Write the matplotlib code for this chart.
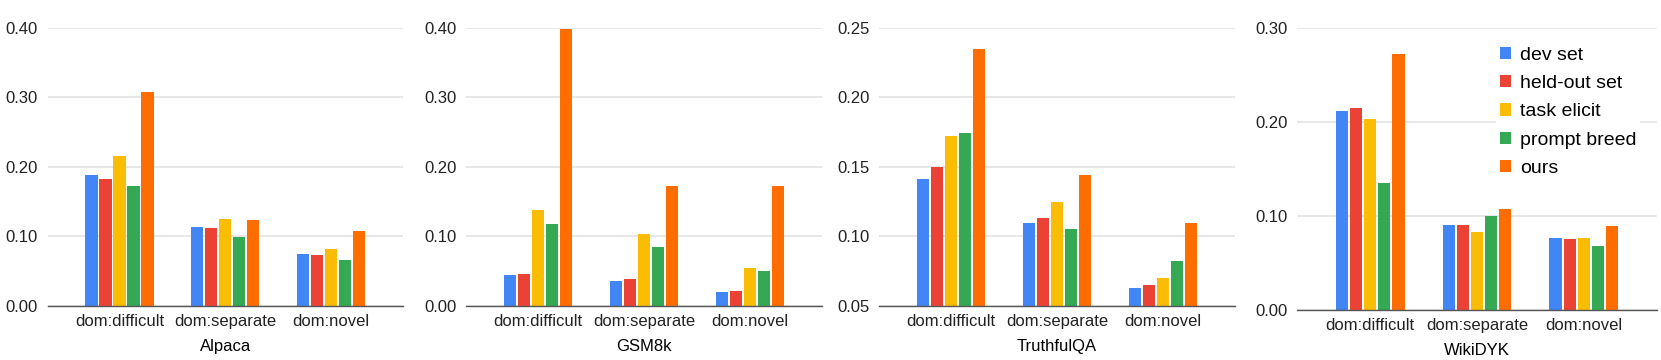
import numpy as np
import matplotlib
matplotlib.use('Agg')
import matplotlib.pyplot as plt

plt.rcParams['font.family'] = ['Liberation Sans', 'DejaVu Sans']

groups = ['dom:difficult', 'dom:separate', 'dom:novel']
methods = ['dev set', 'held-out set', 'task elicit', 'prompt breed', 'ours']
colors = ['#4285F4', '#EA4335', '#FBBC04', '#34A853', '#FF6D01']

# values per dataset: rows = groups, cols = methods
alpaca = [[0.189, 0.182, 0.216, 0.173, 0.308],
          [0.113, 0.112, 0.125, 0.099, 0.123],
          [0.075, 0.073, 0.082, 0.066, 0.108]]
gsm8k = [[0.045, 0.046, 0.138, 0.118, 0.398],
         [0.036, 0.039, 0.103, 0.085, 0.173],
         [0.020, 0.021, 0.054, 0.051, 0.173]]
truthfulqa = [[0.141, 0.150, 0.172, 0.174, 0.235],
              [0.110, 0.113, 0.125, 0.105, 0.144],
              [0.063, 0.065, 0.070, 0.082, 0.110]]
wikidyk = [[0.212, 0.215, 0.203, 0.135, 0.272],
           [0.090, 0.090, 0.083, 0.100, 0.107],
           [0.077, 0.075, 0.076, 0.068, 0.089]]

datasets = ['Alpaca', 'GSM8k', 'TruthfulQA', 'WikiDYK']
values = [alpaca, gsm8k, truthfulqa, wikidyk]
yticks = [[0.0, 0.1, 0.2, 0.3, 0.4],
          [0.0, 0.1, 0.2, 0.3, 0.4],
          [0.05, 0.10, 0.15, 0.20, 0.25],
          [0.0, 0.1, 0.2, 0.3]]

W, H = 1661, 360
fig = plt.figure(figsize=(W / 100, H / 100), dpi=100)

# axes boxes in pixels: left, top, right, bottom
boxes = [(47.7, 27.7, 402.7, 306),
         (466, 27.7, 821.7, 306),
         (879.3, 27.7, 1235, 306),
         (1297.3, 27.7, 1656.7, 310)]

step = 0.1325
bw = 0.115
x = np.arange(len(groups))

for k, (name, vals, yt, box) in enumerate(zip(datasets, values, yticks, boxes)):
    l, t, r, b = box
    ax = fig.add_axes([l / W, (H - b) / H, (r - l) / W, (b - t) / H])
    vals = np.array(vals)
    for m in range(len(methods)):
        ax.bar(x + (m - 2) * step, vals[:, m], width=bw, color=colors[m],
               label=methods[m], zorder=3)
    ax.set_xlim(-0.68, 2.68)
    ax.set_ylim(yt[0], yt[-1])
    ax.set_yticks(yt)
    ax.set_yticklabels(['%.2f' % v for v in yt])
    ax.set_xticks(x)
    ax.set_xticklabels(groups)
    ax.set_xlabel(name, fontsize=12, labelpad=7)
    ax.tick_params(axis='both', length=0, labelsize=12, colors='#222222')
    ax.tick_params(axis='y', pad=7)
    ax.tick_params(axis='x', pad=6)
    ax.grid(axis='y', color='#e0e0e0', linewidth=1.1, zorder=0)
    for s in ['top', 'right', 'left']:
        ax.spines[s].set_visible(False)
    ax.spines['bottom'].set_color('#555555')
    ax.spines['bottom'].set_linewidth(1.0)
    ax.spines['bottom'].set_zorder(4)
    if k == 3:
        leg = ax.legend(loc='upper left', bbox_to_anchor=(1486 / W, (H - 33) / H),
                        bbox_transform=fig.transFigure, fontsize=14,
                        frameon=True, facecolor='white', edgecolor='none',
                        framealpha=1, fancybox=False, borderpad=0.2,
                        handlelength=0.6, handleheight=0.6, handletextpad=0.45,
                        labelspacing=0.58)
        leg.set_zorder(5)

fig.savefig('out.png', dpi=100, facecolor='white')
